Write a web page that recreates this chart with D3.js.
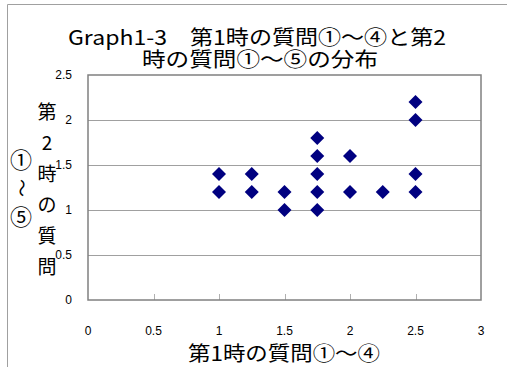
<!DOCTYPE html>
<html><head><meta charset="utf-8">
<script src="https://cdn.jsdelivr.net/npm/d3@7"></script>
<style>body{margin:0;background:#fff}svg{display:block}</style>
</head><body>
<script>
const xVals = [1, 1, 1.25, 1.25, 1.5, 1.5, 1.75, 1.75, 1.75, 1.75, 1.75, 2, 2, 2.25, 2.5, 2.5, 2.5, 2.5];
const yVals = [1.4, 1.2, 1.4, 1.2, 1.2, 1.0, 1.8, 1.6, 1.4, 1.2, 1.0, 1.6, 1.2, 1.2, 2.2, 2.0, 1.4, 1.2];
const xTicks = [0, 0.5, 1, 1.5, 2, 2.5, 3];
const yTicks = [0, 0.5, 1, 1.5, 2, 2.5];
const titleLines = ["Graph1-3　第1時の質問①～④と第2", "時の質問①～⑤の分布"];
const xTitle = "第1時の質問①～④";
const yTitleCol1 = ["第", "2", "時", "の", "質", "問"];
const yTitleCol2 = ["①", "～", "⑤"];

const W = 507, H = 367;
const font = "'Noto Sans CJK JP', 'Liberation Sans', sans-serif";
const svg = d3.select("body").append("svg").attr("width", W).attr("height", H);
const L = 88, R = 481, T = 75, B = 300;
const x = d3.scaleLinear().domain([0, 3]).range([L, R]);
const y = d3.scaleLinear().domain([0, 2.5]).range([B, T]);

// outer border (top and left visible)
svg.append("path").attr("d", `M7.5,${H} V4.5 H${W}`).attr("fill", "none").attr("stroke", "#a0a0a0").attr("stroke-width", 1);

// gridlines
svg.append("g").selectAll("line").data(yTicks.filter(d => d > 0 && d < 2.5)).join("line")
  .attr("x1", L).attr("x2", R).attr("y1", d => Math.round(y(d)) + 0.5).attr("y2", d => Math.round(y(d)) + 0.5)
  .attr("stroke", "#a0a0a0").attr("stroke-width", 1);

// x minor ticks inside bottom
svg.append("g").selectAll("line").data(xTicks.filter(d => d > 0 && d < 3)).join("line")
  .attr("x1", d => Math.round(x(d)) + 0.5).attr("x2", d => Math.round(x(d)) + 0.5)
  .attr("y1", B - 6).attr("y2", B).attr("stroke", "#b0b0b0");

// plot border
svg.append("rect").attr("x", L).attr("y", T).attr("width", R - L).attr("height", B - T)
  .attr("fill", "none").attr("stroke", "#808080").attr("stroke-width", 1.5);

// y tick labels
svg.append("g").selectAll("text").data(yTicks).join("text")
  .attr("x", 72).attr("y", d => y(d)).attr("dy", "0.35em").attr("text-anchor", "end")
  .attr("font-family", "'Liberation Sans', sans-serif").attr("font-size", 12).attr("fill", "#000")
  .text(d => d);

// x tick labels
svg.append("g").selectAll("text").data(xTicks).join("text")
  .attr("x", d => x(d)).attr("y", 335).attr("text-anchor", "middle")
  .attr("font-family", "'Liberation Sans', sans-serif").attr("font-size", 12).attr("fill", "#000")
  .text(d => d);

// points
svg.append("g").selectAll("path").data(xVals.map((v, i) => [v, yVals[i]])).join("path")
  .attr("transform", d => `translate(${x(d[0])},${y(d[1])})`)
  .attr("d", "M0,-7 L7,0 L0,7 L-7,0 Z").attr("fill", "#000080");

// title
const titleLens = [378, 236];
svg.append("g").selectAll("text").data(titleLines).join("text")
  .attr("x", (d, i) => i === 0 ? 68 : 142).attr("y", (d, i) => 45 + i * 22)
  .attr("textLength", (d, i) => titleLens[i]).attr("lengthAdjust", "spacingAndGlyphs")
  .attr("font-family", font).attr("font-size", 20.5).attr("fill", "#000").text(d => d);

// x title
svg.append("text").attr("x", 188).attr("y", 361).attr("textLength", 192).attr("lengthAdjust", "spacingAndGlyphs")
  .attr("font-family", font).attr("font-size", 20).attr("fill", "#000").text(xTitle);

// y title columns
svg.append("g").selectAll("text").data(yTitleCol1).join("text")
  .attr("x", 47).attr("y", (d, i) => 119 + i * 31).attr("text-anchor", "middle")
  .attr("font-family", font).attr("font-size", 19).attr("fill", "#000").text(d => d);
svg.append("g").selectAll("text").data(yTitleCol2).join("text")
  .attr("transform", (d, i) => d === "～" ? `translate(21,${188}) rotate(90)` : `translate(21,${160 + i * 28.5})`)
  .attr("dy", "0.35em").attr("text-anchor", "middle")
  .attr("font-family", font).attr("font-size", d => d === "～" ? 18 : 22).attr("fill", "#000").text(d => d);
</script>
</body></html>
